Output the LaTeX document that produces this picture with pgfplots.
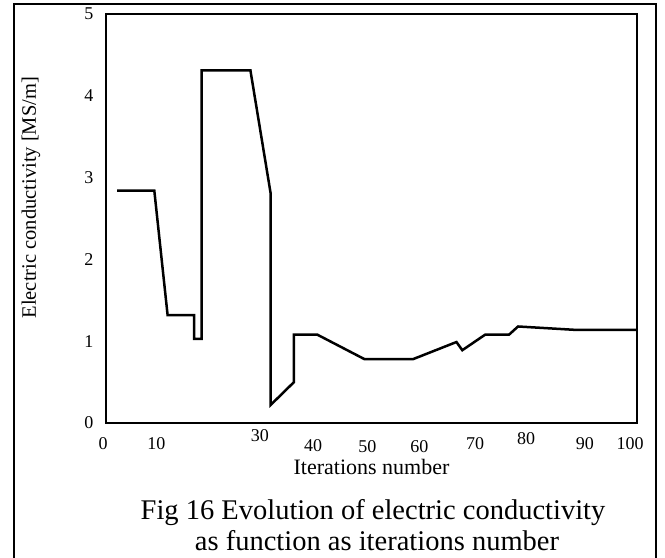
\documentclass[border=0pt]{standalone}
\usepackage{fontspec}
\setmainfont{Liberation Serif}
\usepackage{pgfplots}
\pgfplotsset{compat=1.18}
\begin{document}
\begin{tikzpicture}
\path[use as bounding box] (0bp,0bp) rectangle (665bp,-558bp);
\draw[line width=1.3bp] (14bp,-562bp) -- (14bp,-4bp) -- (656bp,-4bp) -- (656bp,-562bp);
\begin{axis}[
  at={(106bp,-423bp)}, anchor=south west,
  scale only axis, width=531bp, height=409bp,
  xmin=0, xmax=100, ymin=0, ymax=5,
  axis line style={line width=2bp},
  major tick length=0pt,
  /pgf/number format/assume math mode=true,
  tick label style={font=\fontsize{18bp}{21bp}\selectfont},
  xtick={0,9.5,29,39,49.2,59,69.5,79.1,90.2,98.7},
  xticklabels={\hspace*{-6bp}0,10,\raisebox{8bp}{30},\raisebox{-2bp}{40},\raisebox{-3bp}{50},\raisebox{-3bp}{60},70,\raisebox{5bp}{80},90,100},
  xticklabel style={anchor=base, yshift=-26bp},
  ytick={0,1,2,3,4,5},
  yticklabel style={anchor=east, xshift=-9bp},
  xlabel={Iterations number},
  ylabel={Electric conductivity [MS/m]},
  every axis x label/.style={at={(rel axis cs:0.5,-0.1247)}, anchor=base, font=\fontsize{22bp}{26bp}\selectfont},
  every axis y label/.style={at={(rel axis cs:-0.1412,0.551)}, rotate=90, anchor=center, font=\fontsize{20.5bp}{24bp}\selectfont},
  clip=false,
]
\addplot[black, line width=2.5bp, line join=miter] coordinates {
 (2.1,2.84) (9.1,2.84) (11.6,1.32) (16.6,1.32) (16.6,1.03) (18.0,1.03)
 (18.0,4.31) (27.2,4.31) (31.0,2.81) (31.0,0.22) (35.4,0.50) (35.4,1.08)
 (39.8,1.08) (48.7,0.78) (57.8,0.78) (66.0,0.99) (67.1,0.89) (71.4,1.08)
 (75.9,1.08) (77.6,1.18) (88.0,1.14) (100,1.14)
};
\end{axis}
\node[anchor=base, font=\fontsize{28.5bp}{31bp}\selectfont] at (373bp,-519bp) {Fig 16 Evolution of electric conductivity};
\node[anchor=base, font=\fontsize{28.5bp}{31bp}\selectfont] at (377bp,-550bp) {as function as iterations number};
\end{tikzpicture}
\end{document}
